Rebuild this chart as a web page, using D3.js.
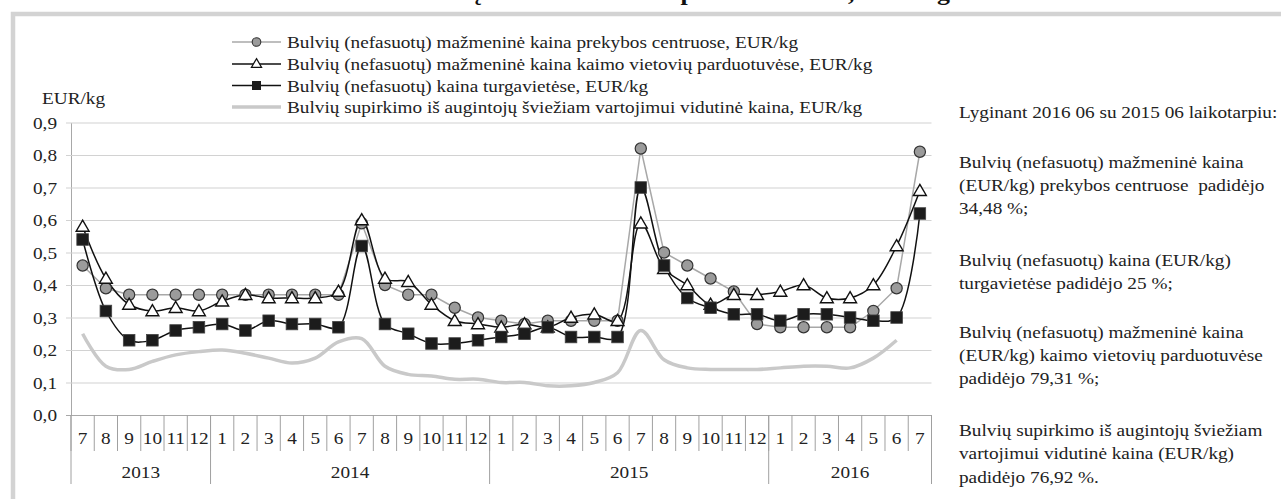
<!DOCTYPE html>
<html>
<head>
<meta charset="utf-8">
<script src="https://cdn.jsdelivr.net/npm/d3@7"></script>
<style>
  html, body { margin: 0; padding: 0; background: #fff; }
  svg { display: block; }
  svg text { font-family: "Liberation Serif", "Times New Roman", Tinos, "DejaVu Serif", serif !important; white-space: pre; }
</style>
</head>
<body>
<svg id="chart" width="1281" height="499"></svg>
<script>
// ---- data ----
const monthLabels = ["7","8","9","10","11","12",
  "1","2","3","4","5","6","7","8","9","10","11","12",
  "1","2","3","4","5","6","7","8","9","10","11","12",
  "1","2","3","4","5","6","7"];
const yearLabels = ["2013", "2014", "2015", "2016"];
const yearMonthCounts = [6, 12, 12, 7];

const seriesNames = [
  "Bulvių (nefasuotų) mažmeninė kaina prekybos centruose, EUR/kg",
  "Bulvių (nefasuotų) mažmeninė kaina kaimo vietovių parduotuvėse, EUR/kg",
  "Bulvių (nefasuotų) kaina turgavietėse, EUR/kg",
  "Bulvių supirkimo iš augintojų šviežiam vartojimui vidutinė kaina, EUR/kg"
];
const prekybosCentrai = [0.46,0.39,0.37,0.37,0.37,0.37,
  0.37,0.37,0.37,0.37,0.37,0.37,0.59,0.40,0.37,0.37,0.33,0.30,
  0.29,0.28,0.29,0.29,0.29,0.29,0.82,0.50,0.46,0.42,0.38,0.28,
  0.27,0.27,0.27,0.27,0.32,0.39,0.81];
const kaimoParduotuves = [0.58,0.42,0.34,0.32,0.33,0.32,
  0.35,0.37,0.36,0.36,0.36,0.38,0.60,0.42,0.41,0.34,0.29,0.28,
  0.27,0.28,0.27,0.30,0.31,0.29,0.59,0.45,0.40,0.34,0.37,0.37,
  0.38,0.40,0.36,0.36,0.40,0.52,0.69];
const turgavietes = [0.54,0.32,0.23,0.23,0.26,0.27,
  0.28,0.26,0.29,0.28,0.28,0.27,0.52,0.28,0.25,0.22,0.22,0.23,
  0.24,0.25,0.27,0.24,0.24,0.24,0.70,0.46,0.36,0.33,0.31,0.31,
  0.29,0.31,0.31,0.30,0.29,0.30,0.62];
const supirkimas = [0.25,0.15,0.14,0.165,0.185,0.195,
  0.20,0.19,0.175,0.16,0.175,0.225,0.235,0.15,0.125,0.12,0.11,0.11,
  0.10,0.10,0.09,0.09,0.10,0.13,0.26,0.17,0.145,0.14,0.14,0.14,
  0.145,0.15,0.15,0.145,0.175,0.23];
const yTicks = [0,0.1,0.2,0.3,0.4,0.5,0.6,0.7,0.8,0.9];

const titleText = "Bulvių mažmeninės ir supirkimo kainos, EUR/kg";
const noteLines = [
  "Lyginant 2016 06 su 2015 06 laikotarpiu:",
  "Bulvių (nefasuotų) mažmeninė kaina",
  "(EUR/kg) prekybos centruose  padidėjo",
  "34,48 %;",
  "Bulvių (nefasuotų) kaina (EUR/kg)",
  "turgavietėse padidėjo 25 %;",
  "Bulvių (nefasuotų) mažmeninė kaina",
  "(EUR/kg) kaimo vietovių parduotuvėse",
  "padidėjo 79,31 %;",
  "Bulvių supirkimo iš augintojų šviežiam",
  "vartojimui vidutinė kaina (EUR/kg)",
  "padidėjo 76,92 %."
];

// ---- layout ----
const FONT = "Liberation Serif, Times New Roman, Tinos, DejaVu Serif, serif";
const FS = 17.5, SX = 1.1;
const svg = d3.select("#chart");
const L = 71, R = 931.5, T = 122.5, B = 415;

function label(g, x0, y0, s, anchor) {
  return g.append("text").attr("transform", `translate(${x0},${y0}) scale(${SX},1)`)
    .attr("text-anchor", anchor || "start").attr("font-size", FS).attr("font-family", FONT)
    .attr("fill", "#222").text(s);
}

// frame
svg.append("rect").attr("x", 13).attr("y", 14).attr("width", 1300).attr("height", 520)
  .attr("fill", "none").attr("stroke", "#d3d3d3").attr("stroke-width", 4.5);

// title (only its lowest part is inside the picture, as in the source)
svg.append("text").attr("transform", `translate(950,-0.5) scale(1.15,1)`).attr("text-anchor", "end")
  .attr("font-family", FONT).attr("font-weight", "bold").attr("font-size", 22.5).attr("fill", "#111")
  .text(titleText);

const x = d3.scaleBand().domain(d3.range(monthLabels.length)).range([L, R]);
const y = d3.scaleLinear().domain([0, 0.9]).range([B, T]);
const cx = i => x(i) + x.bandwidth() / 2;

// y axis with gridlines
const yAxis = svg.append("g").attr("transform", `translate(${L},0)`)
  .call(d3.axisLeft(y).tickValues(yTicks).tickSize(-(R - L)).tickSizeOuter(0)
    .tickFormat(d => d.toFixed(1).replace(".", ",")));
yAxis.attr("font-family", FONT);
yAxis.select(".domain").attr("stroke", "#a8a8a8");
yAxis.selectAll(".tick line").attr("stroke", "#d2d2d2").attr("stroke-width", 1.2).attr("x1", -5);
yAxis.selectAll(".tick text").attr("x", -14 / SX).attr("transform", `scale(${SX},1)`)
  .attr("font-size", FS).attr("font-family", FONT).attr("fill", "#222");
yAxis.selectAll(".tick").filter(d => d === 0).select("line").attr("stroke", "#a8a8a8");

label(svg, 42, 104, "EUR/kg");

// x axis: month labels
const xAxis = svg.append("g").attr("transform", `translate(0,${B})`)
  .call(d3.axisBottom(x).tickFormat(i => monthLabels[i]).tickSize(0));
xAxis.attr("font-family", FONT);
xAxis.select(".domain").remove();
xAxis.selectAll(".tick text").attr("y", 23).attr("dy", "0.32em").attr("transform", `scale(${SX},1)`)
  .attr("font-size", FS).attr("font-family", FONT).attr("fill", "#222");

// month separators
const sepColor = "#a0a0a0";
svg.append("g").selectAll("line").data(d3.range(monthLabels.length + 1)).join("line")
  .attr("x1", i => i < monthLabels.length ? x(i) : R)
  .attr("x2", i => i < monthLabels.length ? x(i) : R)
  .attr("y1", B).attr("y2", B + 36)
  .attr("stroke", sepColor).attr("stroke-width", 1);

// year groups
let start = 0;
const yearBounds = yearMonthCounts.map((n, k) => { const s = start; start += n; return { s, e: start, label: yearLabels[k] }; });
svg.append("g").selectAll("line").data([0].concat(yearBounds.map(d => d.e))).join("line")
  .attr("x1", i => i < monthLabels.length ? x(i) : R)
  .attr("x2", i => i < monthLabels.length ? x(i) : R)
  .attr("y1", B).attr("y2", B + 69)
  .attr("stroke", sepColor).attr("stroke-width", 1);
const yg = svg.append("g");
yearBounds.forEach(d => {
  label(yg, (x(d.s) + (d.e < monthLabels.length ? x(d.e) : R)) / 2, B + 63, d.label, "middle");
});

// ---- series ----
const smooth = d3.line().x((d, i) => cx(i)).y(d => y(d)).curve(d3.curveCatmullRom.alpha(0.5));
const straight = d3.line().x((d, i) => cx(i)).y(d => y(d));

svg.append("path").datum(supirkimas).attr("d", smooth)
  .attr("fill", "none").attr("stroke", "#c9c9c9").attr("stroke-width", 3.5);

svg.append("path").datum(prekybosCentrai).attr("d", straight)
  .attr("fill", "none").attr("stroke", "#a8a8a8").attr("stroke-width", 1.5);
svg.append("path").datum(kaimoParduotuves).attr("d", smooth)
  .attr("fill", "none").attr("stroke", "#111").attr("stroke-width", 1.5);
svg.append("path").datum(turgavietes).attr("d", smooth)
  .attr("fill", "none").attr("stroke", "#111").attr("stroke-width", 1.5);

svg.append("g").selectAll("circle").data(prekybosCentrai).join("circle")
  .attr("cx", (d, i) => cx(i)).attr("cy", d => y(d)).attr("r", 5.6)
  .attr("fill", "#9b9b9b").attr("stroke", "#333").attr("stroke-width", 1.2);

const tri = d3.symbol().type(d3.symbolTriangle).size(72);
svg.append("g").selectAll("path").data(kaimoParduotuves).join("path")
  .attr("d", tri).attr("transform", (d, i) => `translate(${cx(i)},${y(d) + 1})`)
  .attr("fill", "#fff").attr("stroke", "#111").attr("stroke-width", 1.4);

svg.append("g").selectAll("rect").data(turgavietes).join("rect")
  .attr("x", (d, i) => cx(i) - 5.8).attr("y", d => y(d) - 5.8).attr("width", 11.6).attr("height", 11.6)
  .attr("fill", "#1c1c1c").attr("stroke", "#444").attr("stroke-width", 0.8);

// ---- legend ----
const lg = svg.append("g");
const legY = [42, 64, 85.5, 107];
const lx1 = 232, lx2 = 281, lm = 256.5;
lg.append("line").attr("x1", lx1).attr("x2", lx2).attr("y1", legY[0]).attr("y2", legY[0]).attr("stroke", "#a8a8a8").attr("stroke-width", 1.5);
lg.append("circle").attr("cx", lm).attr("cy", legY[0]).attr("r", 4.3).attr("fill", "#9b9b9b").attr("stroke", "#333").attr("stroke-width", 1.1);
lg.append("line").attr("x1", lx1).attr("x2", lx2).attr("y1", legY[1]).attr("y2", legY[1]).attr("stroke", "#111").attr("stroke-width", 1.5);
lg.append("path").attr("d", d3.symbol().type(d3.symbolTriangle).size(45)).attr("transform", `translate(${lm},${legY[1] + 0.5})`)
  .attr("fill", "#fff").attr("stroke", "#111").attr("stroke-width", 1.2);
lg.append("line").attr("x1", lx1).attr("x2", lx2).attr("y1", legY[2]).attr("y2", legY[2]).attr("stroke", "#111").attr("stroke-width", 1.5);
lg.append("rect").attr("x", lm - 4.5).attr("y", legY[2] - 4.5).attr("width", 9).attr("height", 9).attr("fill", "#1c1c1c");
lg.append("line").attr("x1", lx1).attr("x2", lx2).attr("y1", legY[3]).attr("y2", legY[3]).attr("stroke", "#c9c9c9").attr("stroke-width", 3.5);
seriesNames.forEach((s, i) => label(lg, 287, legY[i] + 6, s));

// ---- note text ----
const noteCenters = [112, 162, 185, 208, 260, 283, 332, 355, 378, 430, 453, 477];
const ng = svg.append("g");
noteLines.forEach((t, i) => label(ng, 959, noteCenters[i] + 6, t));
</script>
</body>
</html>
